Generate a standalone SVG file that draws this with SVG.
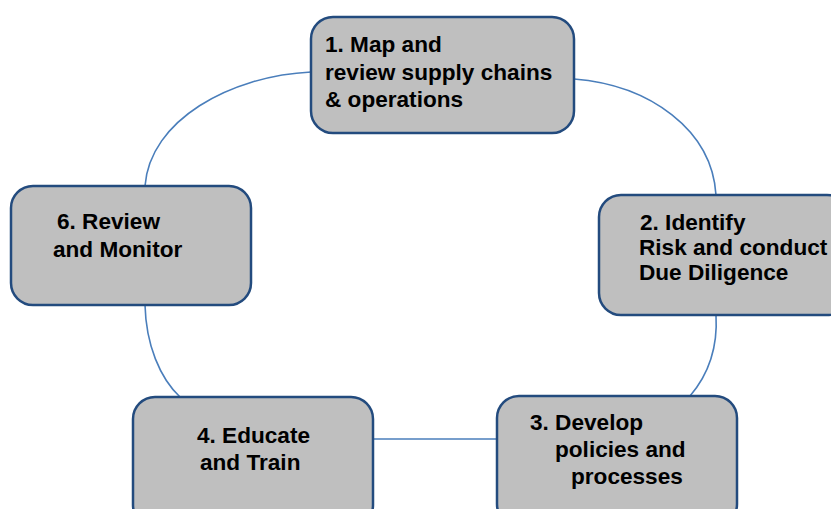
<svg xmlns="http://www.w3.org/2000/svg" width="831" height="509" viewBox="0 0 831 509">
<style>
.box{fill:#BFBFBF;stroke:#234B7E;stroke-width:2.5}
.t{font-family:"Liberation Sans",Arial,sans-serif;font-weight:bold;font-size:22.6px;fill:#000}
.c{fill:none;stroke:#4A7EBB;stroke-width:1.6}
</style>
<rect width="831" height="509" fill="#fff"/>
<g id="connectors">
<path class="c" d="M311,72 C230,76 150,120 145,186"/>
<path class="c" d="M574,79 C650,85 712,130 716,195"/>
<path class="c" d="M716,315 C718,350 708,375 690,396"/>
<path class="c" d="M497,439 L373,439"/>
<path class="c" d="M180,397 C160,378 146,345 145,305"/>
</g>
<g id="node1">
<rect class="box" x="311" y="17" width="263" height="116" rx="22"/>
<text class="t" x="325" y="52">1. Map and</text>
<text class="t" x="325" y="80">review supply chains</text>
<text class="t" x="325" y="107">&amp; operations</text>
</g>
<g id="node2">
<rect class="box" x="599" y="195" width="250" height="120" rx="22"/>
<text class="t" x="640" y="230">2. Identify</text>
<text class="t" x="639" y="255">Risk and conduct</text>
<text class="t" x="639" y="280">Due Diligence</text>
</g>
<g id="node6">
<rect class="box" x="11" y="186" width="240" height="119" rx="22"/>
<text class="t" x="57" y="229">6. Review</text>
<text class="t" x="53" y="257">and Monitor</text>
</g>
<g id="node4">
<rect class="box" x="133" y="397" width="240" height="130" rx="22"/>
<text class="t" x="197" y="443">4. Educate</text>
<text class="t" x="200" y="470">and Train</text>
</g>
<g id="node3">
<rect class="box" x="497" y="396" width="240" height="130" rx="22"/>
<text class="t" x="530" y="430">3. Develop</text>
<text class="t" x="555" y="457">policies and</text>
<text class="t" x="571" y="484">processes</text>
</g>
</svg>
